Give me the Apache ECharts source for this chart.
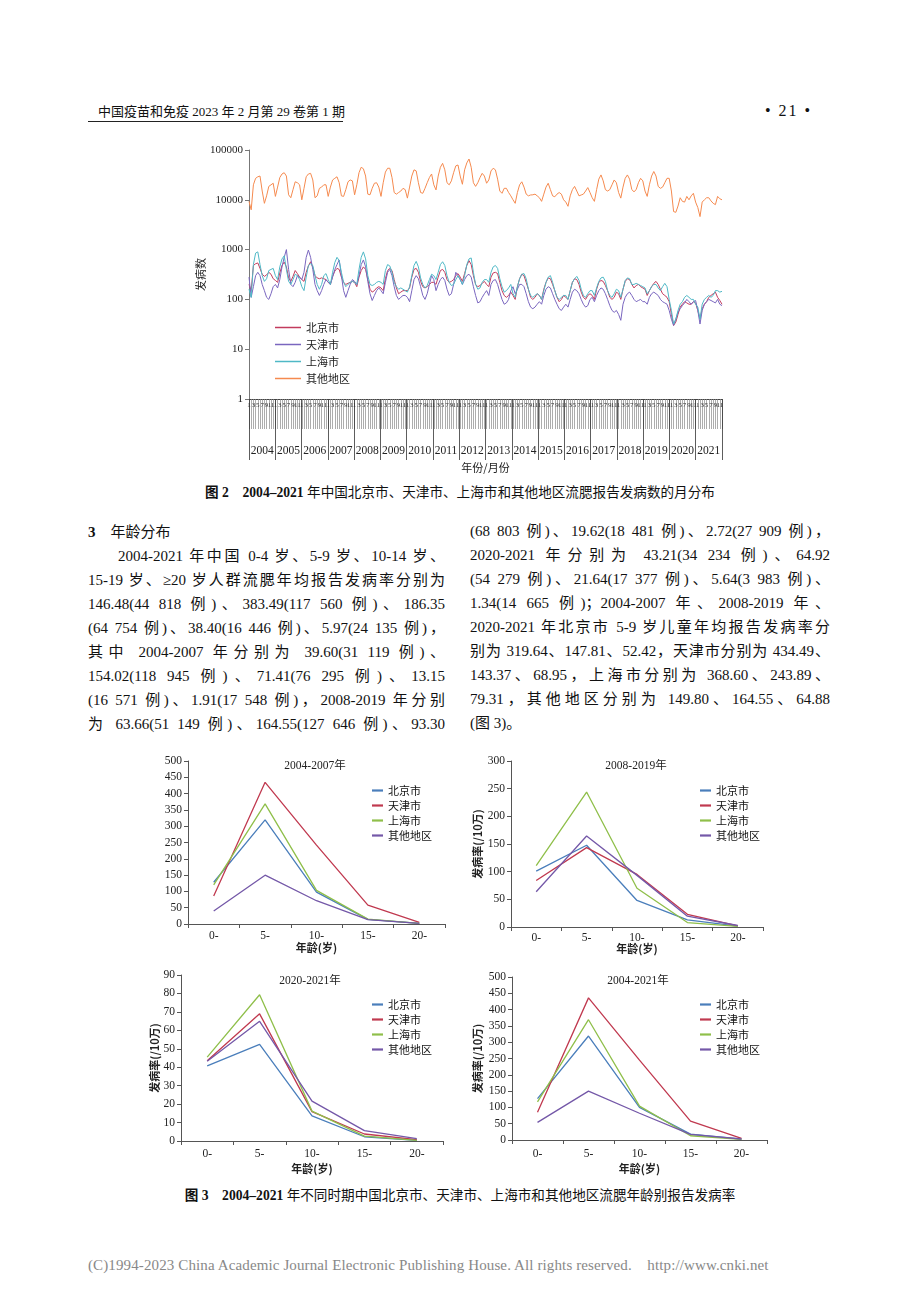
<!DOCTYPE html>
<html><head><meta charset="utf-8">
<script src="https://cdn.jsdelivr.net/npm/echarts/dist/echarts.min.js"></script>
<style>
html,body{margin:0;padding:0;background:#fff;}
#page{position:relative;width:920px;height:1302px;overflow:hidden;font-family:"Liberation Serif","Noto Sans CJK SC",serif;color:#111;}
.chart{position:absolute;left:0;top:0;width:920px;height:1302px;}
.col{position:absolute;font-size:15px;line-height:24px;}
.col div{text-align:justify;text-align-last:justify;white-space:nowrap;}
.col div.nl{text-align:left;text-align-last:left;}
.cap{position:absolute;left:0;width:920px;text-align:center;font-size:13.6px;line-height:18px;font-family:"Liberation Serif","Noto Sans CJK SC",sans-serif;}
.cap b{font-weight:bold;}
</style></head>
<body><div id="page">
<div style="position:absolute;left:98px;top:104px;font-size:13px;line-height:16px;">中国疫苗和免疫 2023 年 2 月第 29 卷第 1 期</div>
<div style="position:absolute;left:88px;top:121px;width:255px;height:1px;background:#222;"></div>
<div style="position:absolute;left:765px;top:102px;font-size:16px;line-height:18px;letter-spacing:2px;">•&nbsp;21&nbsp;•</div>

<div class="cap" style="top:484px;"><b>图 2　2004–2021</b> 年中国北京市、天津市、上海市和其他地区流腮报告发病数的月分布</div>

<div class="col" style="left:88px;top:519px;width:357px;">
<div class="nl"><b>3</b>　<span style="font-family:'Noto Sans CJK SC';">年龄分布</span></div>
<div style="padding-left:30px;">2004-2021 年中国 0-4 岁、5-9 岁、10-14 岁、</div>
<div>15-19 岁、≥20 岁人群流腮年均报告发病率分别为</div>
<div>146.48(44 818 例)、383.49(117 560 例)、186.35</div>
<div>(64 754 例)、38.40(16 446 例)、5.97(24 135 例)，</div>
<div>其中 2004-2007 年分别为 39.60(31 119 例)、</div>
<div>154.02(118 945 例)、71.41(76 295 例)、13.15</div>
<div>(16 571 例)、1.91(17 548 例)，2008-2019 年分别</div>
<div>为 63.66(51 149 例)、164.55(127 646 例)、93.30</div>
</div>
<div class="col" style="left:470px;top:519px;width:360px;">
<div>(68 803 例)、19.62(18 481 例)、2.72(27 909 例)，</div>
<div>2020-2021 年分别为 43.21(34 234 例)、64.92</div>
<div>(54 279 例)、21.64(17 377 例)、5.64(3 983 例)、</div>
<div>1.34(14 665 例)；2004-2007 年、2008-2019 年、</div>
<div>2020-2021 年北京市 5-9 岁儿童年均报告发病率分</div>
<div>别为 319.64、147.81、52.42，天津市分别为 434.49、</div>
<div>143.37、68.95，上海市分别为 368.60、243.89、</div>
<div>79.31，其他地区分别为 149.80、164.55、64.88</div>
<div class="nl">(图 3)。</div>
</div>

<div class="cap" style="top:1187px;"><b>图 3　2004–2021</b> 年不同时期中国北京市、天津市、上海市和其他地区流腮年龄别报告发病率</div>
<div style="position:absolute;left:88px;top:1256px;font-size:15px;line-height:18px;color:#888;white-space:nowrap;letter-spacing:0.12px;">(C)1994-2023 China Academic Journal Electronic Publishing House. All rights reserved.&nbsp;&nbsp;&nbsp;&nbsp;http://www.cnki.net</div>

<div id="c0" class="chart"></div>
<div id="c1" class="chart"></div>
<div id="c2" class="chart"></div>
<div id="c3" class="chart"></div>
<div id="c4" class="chart"></div>
</div>
<script>
// ---------- Figure 2: monthly counts ----------
const years = ['2004','2005','2006','2007','2008','2009','2010','2011','2012','2013','2014','2015','2016','2017','2018','2019','2020','2021'];
const monthNums = ['1','2','3','4','5','6','7','8','9','10','11','12'];
const cityNames = ['北京市','天津市','上海市','其他地区'];
const yTickLabels = [1, 10, 100, 1000, 10000, 100000];

const beijingMonthly = [
200,150,480,520,540,420,320,290,310,350,320,260,
240,220,340,480,560,450,270,230,290,380,330,280,
250,230,350,470,570,440,300,270,260,270,260,250,
220,200,290,370,420,400,280,220,200,210,220,230,
220,180,280,380,450,400,250,160,140,150,170,180,
170,150,260,380,420,380,250,170,130,140,150,150,
150,170,280,400,420,350,230,180,170,180,200,220,
220,200,280,380,400,350,250,220,230,250,300,330,
280,230,330,480,600,500,300,200,180,190,210,230,
200,180,280,340,350,330,220,150,120,110,120,140,
120,100,180,260,320,300,220,160,110,100,110,130,
120,100,160,220,270,260,200,150,110,90,100,120,
110,100,150,220,260,250,200,140,110,100,120,130,
120,100,160,220,240,230,190,150,110,100,110,140,
130,100,160,230,260,250,200,170,190,200,180,170,
160,120,150,180,210,230,200,160,130,120,110,90,
50,30,35,50,70,80,90,85,80,80,90,85,
60,40,65,80,90,110,120,130,140,110,95,80];

const tianjinMonthly = [
280,110,180,300,350,300,200,150,110,100,130,180,
200,170,250,450,700,1000,400,200,180,220,300,280,
250,350,700,980,700,400,200,150,120,150,200,250,
220,200,280,400,500,620,300,150,110,150,200,250,
230,200,300,500,620,450,230,130,95,120,150,170,
150,130,220,350,400,300,180,120,100,110,120,120,
110,90,150,250,300,260,180,120,100,130,200,300,
250,150,200,250,280,240,160,120,130,200,350,300,
250,200,250,300,320,280,180,120,85,90,110,130,
150,120,200,240,250,200,140,100,80,85,100,150,
180,130,160,200,200,180,130,90,70,65,70,80,
90,80,120,160,180,170,130,100,80,65,60,70,
80,70,100,140,160,150,130,100,80,70,75,100,
110,90,120,150,170,160,130,100,75,60,55,60,
50,38,80,110,130,140,120,100,90,95,100,90,
90,80,110,130,140,130,120,100,90,85,80,60,
40,30,40,55,65,75,85,100,90,80,90,95,
60,32,60,80,90,100,95,90,85,100,80,75];

const shanghaiMonthly = [
160,110,500,850,900,500,300,230,260,380,400,420,
300,250,450,650,750,400,230,200,250,320,300,250,
180,150,280,480,520,480,300,200,160,200,300,330,
250,200,350,550,700,600,350,220,180,200,220,230,
220,200,400,700,900,650,300,200,190,200,220,230,
220,200,380,500,470,350,220,180,160,170,160,150,
140,180,300,480,580,450,270,200,170,190,250,320,
300,250,350,500,570,480,300,220,190,200,250,300,
250,200,300,500,650,680,350,200,160,170,220,250,
250,220,350,450,480,420,260,180,140,150,170,200,
130,110,180,260,320,330,260,160,120,110,120,130,
120,100,150,220,280,300,220,150,110,100,110,120,
120,100,150,220,260,290,240,160,120,110,130,150,
150,120,170,230,270,280,230,150,120,110,130,160,
150,110,160,240,270,260,200,200,210,200,190,180,
170,130,150,180,200,200,170,150,180,210,180,100,
60,32,40,60,80,90,110,120,110,100,100,80,
70,40,80,100,110,120,110,120,150,150,140,145];

const otherMonthly = [
9300,6300,20000,27000,29000,30000,15000,8500,12000,18600,20000,21500,
11700,18000,28000,33000,35000,30000,12600,11000,16000,23000,22000,20000,
10000,17000,29000,33000,34000,25000,11000,12000,17000,18000,20000,20000,
11700,18000,25000,27000,29000,22000,12000,11700,16000,23000,25000,24000,
12600,20000,35000,45000,42000,30000,13000,12600,17000,21500,22000,18000,
11700,22000,36000,43000,43000,28000,14000,13000,14000,15000,17000,16000,
10800,18000,30000,40000,38000,22000,14000,13500,17000,22000,28000,33000,
20000,15800,30000,45000,54000,40000,22000,20000,24000,35000,48000,50000,
30000,20500,40000,55000,66000,45000,22000,18600,22000,28000,34000,30000,
21500,25000,38000,43000,40000,26000,15000,13500,17000,17000,14000,12000,
10000,8500,14000,20000,23000,18000,13000,12000,12500,12600,13000,12000,
11000,9300,13000,18000,21500,16000,12000,11500,13000,14000,13000,10000,
9000,7400,12000,16000,18600,15000,12000,12500,13000,15000,17600,14000,
11000,9300,16000,26000,31600,24000,16000,15000,16000,20000,25000,22000,
14000,10800,18000,27000,31600,26000,16000,14500,16000,22000,27000,24000,
15000,11700,20000,30000,37000,30000,18600,17000,18000,22000,27000,27000,
15000,5800,5600,7500,11000,9300,9000,11700,10000,12000,13500,9000,
7000,4600,9000,10000,11000,11000,9500,8500,8000,11700,10500,10000];

// ---------- Figure 3: age-specific rates (/10万) ----------
const ageCats = ['0-','5-','10-','15-','20-'];
const periodTitles = ['2004-2007年','2008-2019年','2020-2021年','2004-2021年'];
const rate0407Beijing = [128, 319.64, 98, 14, 2];
const rate0407Tianjin = [86, 434.49, 242, 58, 5];
const rate0407Shanghai = [120, 368.60, 103, 15, 2];
const rate0407Other = [39.60, 149.80, 71.41, 13.15, 1.91];
const rate0819Beijing = [101, 147.81, 48, 13, 1.5];
const rate0819Tianjin = [84, 143.37, 95, 23, 2];
const rate0819Shanghai = [111, 243.89, 70, 8, 1];
const rate0819Other = [63.66, 164.55, 93.30, 19.62, 2.72];
const rate2021Beijing = [40.7, 52.42, 13.6, 2.3, 0.4];
const rate2021Tianjin = [43.5, 68.95, 15.9, 3.8, 0.8];
const rate2021Shanghai = [45.5, 79.31, 16.2, 2.6, 0.3];
const rate2021Other = [43.21, 64.88, 21.64, 5.64, 1.34];
const rate0421Beijing = [127, 319, 100, 18, 3];
const rate0421Tianjin = [85, 436, 245, 58, 5];
const rate0421Shanghai = [117, 369, 104, 13, 2];
const rate0421Other = [54, 150, 82, 17, 3];

const SERIF = '"Liberation Serif", "Noto Sans CJK SC", serif';
const CJK = '"Noto Sans CJK SC", sans-serif';

const monthCats = [];
years.forEach(y => monthNums.forEach(m => monthCats.push(y + '-' + m)));

const fig2Colors = ['#c23b5d', '#7a66bf', '#4fb8c6', '#f58a4f'];
const fig2Data = [beijingMonthly, tianjinMonthly, shanghaiMonthly, otherMonthly];

const opt0 = {
  animation: false,
  grid: { left: 249, top: 150, width: 473, height: 249, containLabel: false, outerBoundsMode: 'none' },
  legend: {
    orient: 'vertical', left: 270, top: 317, icon: 'rect', itemWidth: 26, itemHeight: 1.5, itemGap: 6,
    textStyle: { fontFamily: CJK, fontSize: 11, color: '#222', lineHeight: 11 },
    data: cityNames
  },
  xAxis: [
    {
      type: 'category', data: monthCats, boundaryGap: false, position: 'bottom',
      axisLine: { show: true, lineStyle: { color: '#444', width: 1 } },
      axisTick: { show: true, interval: 0, length: 30, lineStyle: { color: '#8a8a8a', width: 0.7 } },
      axisLabel: {
        interval: 0, margin: 3, fontSize: 7, fontFamily: SERIF, color: '#333', hideOverlap: false,
        formatter: function (v) { const m = +v.split('-')[1]; return (m % 2 === 1) ? String(m) : ''; }
      },
      splitLine: { show: false }
    },
    {
      type: 'category', data: years, boundaryGap: true, position: 'bottom',
      axisLine: { show: false },
      axisTick: { show: true, interval: 0, length: 61, lineStyle: { color: '#333', width: 0.8 } },
      axisLabel: { interval: 0, margin: 46, fontSize: 11.5, fontFamily: SERIF, color: '#222', hideOverlap: false },
      name: '年份/月份', nameLocation: 'middle', nameGap: 63, nameMoveOverlap: false,
      nameTextStyle: { fontFamily: CJK, fontSize: 11, color: '#222' },
      splitLine: { show: false }
    }
  ],
  yAxis: {
    type: 'log', logBase: 10, min: yTickLabels[0], max: yTickLabels[yTickLabels.length - 1],
    axisLine: { show: true, lineStyle: { color: '#777', width: 1 } },
    axisTick: { show: true, length: 4, lineStyle: { color: '#777' } },
    axisLabel: { fontSize: 11, fontFamily: SERIF, color: '#222', margin: 6, formatter: v => String(Math.round(v)) },
    splitLine: { show: false },
    name: '发病数', nameLocation: 'middle', nameGap: 43, nameMoveOverlap: false,
    nameTextStyle: { fontFamily: CJK, fontSize: 11, color: '#222' }
  },
  series: cityNames.map((n, i) => ({
    name: n, type: 'line', xAxisIndex: 0, data: fig2Data[i], symbol: 'none',
    lineStyle: { width: 1, color: fig2Colors[i] }, itemStyle: { color: fig2Colors[i] }
  }))
};
echarts.init(document.getElementById('c0'), null, { renderer: 'canvas' }).setOption(opt0);

const ageColors = ['#4a7ebb', '#c0394f', '#8fbf4a', '#7458a8'];

function ageOption(cfg) {
  const axisColor = '#555';
  return {
    animation: false,
    grid: { left: cfg.grid[0], top: cfg.grid[1], width: cfg.grid[2], height: cfg.grid[3], containLabel: false, outerBoundsMode: 'none' },
    graphic: [{
      type: 'text', x: cfg.title[0], y: cfg.title[1],
      style: { text: cfg.titleText, fontSize: 11.5, fontFamily: SERIF, fill: '#222', align: 'center', verticalAlign: 'middle' }
    }],
    legend: {
      orient: 'vertical', left: cfg.legend[0], top: cfg.legend[1], icon: 'rect', itemWidth: 11, itemHeight: 2.2, itemGap: 4,
      textStyle: { fontFamily: CJK, fontSize: 11, color: '#111', lineHeight: 11 },
      data: cityNames
    },
    xAxis: {
      type: 'category', data: ageCats, boundaryGap: true,
      axisLine: { show: true, lineStyle: { color: axisColor, width: 1 } },
      axisTick: { show: true, length: 4, lineStyle: { color: axisColor } },
      axisLabel: { interval: 0, margin: cfg.xMargin, fontSize: 11.5, fontFamily: SERIF, color: '#222' },
      name: '年龄(岁)', nameLocation: 'middle', nameGap: cfg.xNameGap, nameMoveOverlap: false,
      nameTextStyle: { fontFamily: CJK, fontSize: 11, fontWeight: 'bold', color: '#222' },
      splitLine: { show: false }
    },
    yAxis: {
      type: 'value', min: 0, max: cfg.ymax, interval: cfg.step,
      axisLine: { show: true, lineStyle: { color: axisColor, width: 1 } },
      axisTick: { show: true, length: 4, lineStyle: { color: axisColor } },
      axisLabel: { fontSize: 11.5, fontFamily: SERIF, color: '#222', margin: 6 },
      splitLine: { show: false },
      name: cfg.yName ? '发病率(/10万)' : '', nameLocation: 'middle', nameGap: cfg.yNameGap || 30, nameMoveOverlap: false,
      nameTextStyle: { fontFamily: CJK, fontSize: 11, fontWeight: 'bold', color: '#222' }
    },
    series: cityNames.map((n, i) => ({
      name: n, type: 'line', data: cfg.data[i], symbol: 'none',
      lineStyle: { width: 1.3, color: ageColors[i] }, itemStyle: { color: ageColors[i] }
    }))
  };
}

echarts.init(document.getElementById('c1')).setOption(ageOption({
  grid: [188, 761, 257, 163], title: [315, 766], titleText: periodTitles[0], legend: [367, 780],
  ymax: 500, step: 50, xMargin: 6, xNameGap: 18, yName: false,
  data: [rate0407Beijing, rate0407Tianjin, rate0407Shanghai, rate0407Other]
}));
echarts.init(document.getElementById('c2')).setOption(ageOption({
  grid: [511, 761, 252, 166], title: [636, 766], titleText: periodTitles[1], legend: [695, 780],
  ymax: 300, step: 50, xMargin: 5, xNameGap: 16, yName: true, yNameGap: 28,
  data: [rate0819Beijing, rate0819Tianjin, rate0819Shanghai, rate0819Other]
}));
echarts.init(document.getElementById('c3')).setOption(ageOption({
  grid: [181, 975, 262, 166], title: [310, 981], titleText: periodTitles[2], legend: [367, 994],
  ymax: 90, step: 10, xMargin: 7, xNameGap: 22, yName: true, yNameGap: 21,
  data: [rate2021Beijing, rate2021Tianjin, rate2021Shanghai, rate2021Other]
}));
echarts.init(document.getElementById('c4')).setOption(ageOption({
  grid: [512, 977, 255, 163], title: [638, 981], titleText: periodTitles[3], legend: [695, 994],
  ymax: 500, step: 50, xMargin: 8, xNameGap: 23, yName: true, yNameGap: 29,
  data: [rate0421Beijing, rate0421Tianjin, rate0421Shanghai, rate0421Other]
}));
</script>
</body></html>
